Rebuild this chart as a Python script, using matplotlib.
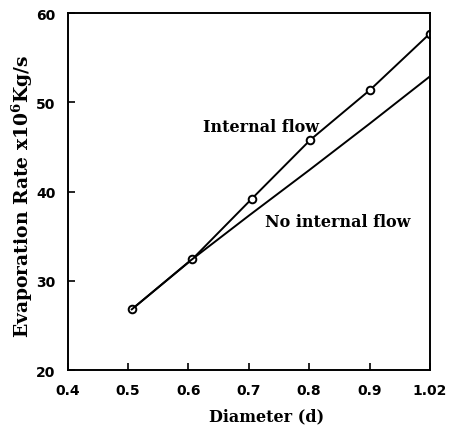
import numpy as np
import matplotlib
matplotlib.use('Agg')
import matplotlib.pyplot as plt

# values
diam_int = [0.506, 0.606, 0.705, 0.802, 0.901, 1.0]
evap_int = [26.8, 32.4, 39.2, 45.8, 51.4, 57.7]

diam_noint = [0.506, 0.6, 0.7, 0.8, 0.9, 1.0]
evap_noint = [26.8, 32.1, 37.3, 42.4, 47.6, 52.9]

xticks = [0.4, 0.5, 0.6, 0.7, 0.8, 0.9, 1.0]
xticklabels = ['0.4', '0.5', '0.6', '0.7', '0.8', '0.9', '1.02']
yticks = [20, 30, 40, 50, 60]

plt.rcParams['mathtext.fontset'] = 'dejavuserif'

fig = plt.figure(figsize=(4.52, 4.27), dpi=100)
ax = fig.add_axes([0.150, 0.131, 0.801, 0.836])

ax.plot(diam_int, evap_int, color='black', lw=1.4)
ax.plot(diam_int, evap_int, 'o', mfc='white', mec='black', ms=5.5, mew=1.4)
ax.plot(diam_noint, evap_noint, color='black', lw=1.4)

ax.text(0.624, 47.3, 'Internal flow', fontsize=11.5, family='DejaVu Serif',
        fontweight='bold', va='center', ha='left')
ax.text(0.727, 36.7, 'No internal flow', fontsize=11.5, family='DejaVu Serif',
        fontweight='bold', va='center', ha='left')

ax.set_xlim(0.4, 1.0)
ax.set_ylim(20, 60)
ax.set_xticks(xticks)
ax.set_xticklabels(xticklabels)
ax.set_yticks(yticks)
ax.tick_params(direction='in', length=5, width=1.2, labelsize=10, pad=9)
for lab in ax.get_xticklabels() + ax.get_yticklabels():
    lab.set_fontweight('bold')
for s in ax.spines.values():
    s.set_linewidth(1.4)

ax.set_xlabel('Diameter (d)', family='DejaVu Serif', fontweight='bold', fontsize=11.5)
ax.xaxis.set_label_coords(0.55, -0.105)
ax.set_ylabel(r'Evaporation Rate x10$^{\mathbf{6}}$Kg/s', family='DejaVu Serif',
              fontweight='bold', fontsize=13.5)
ax.yaxis.set_label_coords(-0.09, 0.49)

fig.savefig('out.png', dpi=100)
